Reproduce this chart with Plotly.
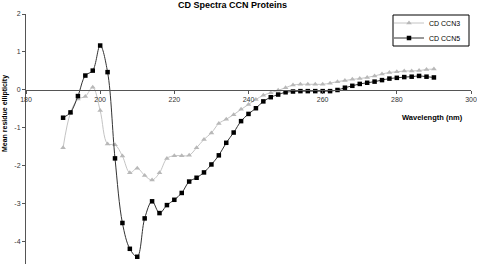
import plotly.graph_objects as go

wavelength = [190, 192, 194, 196, 198, 200, 202, 204, 206, 208, 210, 212, 214, 216, 218, 220,
              222, 224, 226, 228, 230, 232, 234, 236, 238, 240, 242, 244, 246, 248, 250, 252,
              254, 256, 258, 260, 262, 264, 266, 268, 270, 272, 274, 276, 278, 280, 282, 284,
              286, 288, 290]

ccn3 = [-1.52, -0.60, -0.24, -0.17, 0.07, -0.54, -1.42, -1.44, -1.74, -2.18, -2.06, -2.25,
        -2.37, -2.18, -1.80, -1.73, -1.73, -1.72, -1.52, -1.30, -1.13, -0.88, -0.77, -0.65,
        -0.51, -0.38, -0.25, -0.14, -0.07, -0.01, 0.06, 0.13, 0.15, 0.15, 0.15, 0.15, 0.18,
        0.22, 0.25, 0.28, 0.30, 0.33, 0.37, 0.42, 0.46, 0.48, 0.50, 0.50, 0.51, 0.54, 0.55]

ccn5 = [-0.73, -0.59, -0.16, 0.38, 0.51, 1.17, 0.47, -1.80, -3.50, -4.18, -4.39, -3.38,
        -2.93, -3.24, -3.03, -2.89, -2.71, -2.41, -2.31, -2.17, -1.96, -1.72, -1.39, -1.12,
        -0.82, -0.63, -0.48, -0.30, -0.19, -0.12, -0.06, -0.04, -0.03, -0.03, -0.03, -0.03,
        -0.03, 0.00, 0.06, 0.11, 0.16, 0.19, 0.22, 0.26, 0.30, 0.32, 0.34, 0.35, 0.37, 0.35,
        0.33]

x_ticks = [180, 200, 220, 240, 260, 280, 300]
y_ticks = [-4, -3, -2, -1, 0, 1, 2]

FONT = "Liberation Sans, Arial, sans-serif"
y_min, y_max = -4.58, 2.0

# plot-area geometry in pixels (for placing paper-referenced items)
L, R_PX, T, B_PX = 26, 471, 14, 264
W, H = R_PX - L, B_PX - T


def px(xp):
    return (xp - L) / W


def py(yp):
    return (B_PX - yp) / H


fig = go.Figure()
fig.add_trace(go.Scatter(
    x=wavelength, y=ccn3, name="CD CCN3", mode="lines+markers", legend="legend",
    line=dict(color="#c4c4c4", width=1, shape="spline", smoothing=1),
    marker=dict(symbol="triangle-up", size=5, color="#b8b8b8"),
))
fig.add_trace(go.Scatter(
    x=wavelength, y=ccn5, name="CD CCN5", mode="lines+markers", legend="legend2",
    line=dict(color="#333333", width=1, shape="spline", smoothing=1),
    marker=dict(symbol="square", size=4.5, color="#000000"),
))

zero_pos = (0 - y_min) / (y_max - y_min)

legend_common = dict(
    xanchor="left", yanchor="middle", borderwidth=0, bgcolor="rgba(0,0,0,0)",
    font=dict(family=FONT, size=7, color="#000000"), itemwidth=30,
)

fig.update_layout(
    width=477, height=264,
    margin=dict(l=L, r=477 - R_PX, t=T, b=264 - B_PX, autoexpand=False),
    paper_bgcolor="white", plot_bgcolor="white",
    font=dict(family=FONT, size=7, color="#222222"),
    showlegend=True,
    legend=dict(x=px(389), y=py(23), **legend_common),
    legend2=dict(x=px(389), y=py(38), **legend_common),
    xaxis=dict(
        range=[180, 300], tickvals=x_ticks, ticktext=[str(v) for v in x_ticks],
        showgrid=False, zeroline=False, showline=True, linecolor="#555555", linewidth=1,
        ticks="outside", ticklen=3, tickcolor="#555555",
        anchor="free", position=zero_pos,
        tickfont=dict(family=FONT, size=7, color="#333333"),
    ),
    yaxis=dict(
        range=[y_min, y_max], tickvals=y_ticks, ticktext=[str(v) for v in y_ticks],
        showgrid=False, zeroline=False, showline=True, linecolor="#555555", linewidth=1,
        ticks="outside", ticklen=3, tickcolor="#555555",
        tickfont=dict(family=FONT, size=7, color="#333333"),
    ),
    shapes=[
        dict(type="rect", xref="paper", yref="paper",
             x0=px(393), x1=px(469), y0=py(46), y1=py(15),
             line=dict(color="#000000", width=1), fillcolor="rgba(0,0,0,0)", layer="below"),
    ],
    annotations=[
        dict(text="<b>CD Spectra CCN Proteins</b>", xref="paper", yref="paper",
             x=px(232), y=py(5), xanchor="center", yanchor="middle",
             showarrow=False, font=dict(family=FONT, size=9, color="#000000")),
        dict(text="<b>Mean residue ellipticity</b>", xref="paper", yref="paper",
             x=px(5), y=py(114), xanchor="center", yanchor="middle",
             textangle=-90, showarrow=False, font=dict(family=FONT, size=7, color="#000000")),
        dict(text="<b>Wavelength (nm)</b>", xref="paper", yref="paper",
             x=px(432.5), y=py(117), xanchor="center", yanchor="middle",
             showarrow=False, font=dict(family=FONT, size=7.5, color="#000000")),
    ],
)

fig.write_html(
    "out.html",
    config={"displayModeBar": False},
    post_script="document.body.style.margin='0';document.body.style.padding='0';",
)
